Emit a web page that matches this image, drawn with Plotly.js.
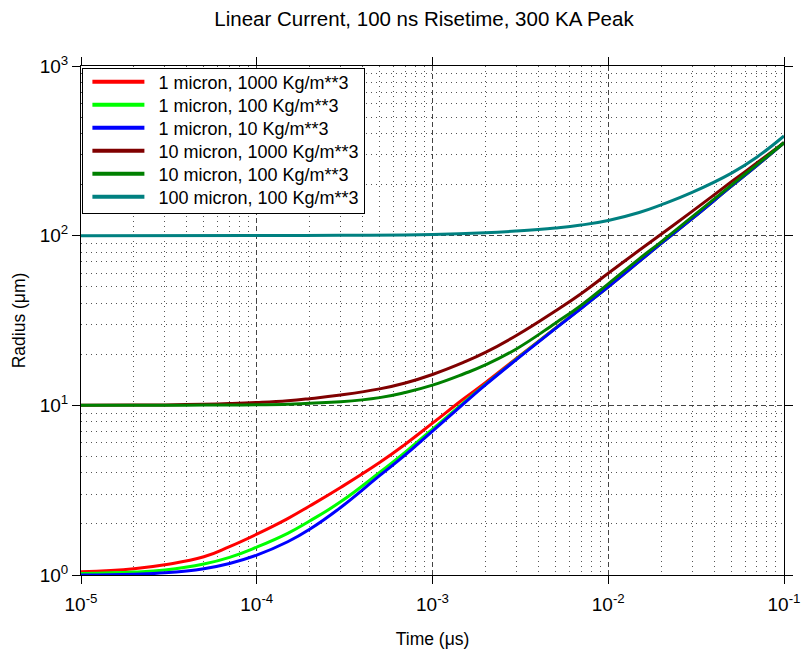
<!DOCTYPE html>
<html>
<head>
<meta charset="utf-8">
<script src="https://cdn.plot.ly/plotly-3.0.1.min.js"></script>
<style>html,body{margin:0;padding:0;background:#fff;}#chart{width:803px;height:659px;}</style>
</head>
<body>
<div id="chart"></div>
<script>
// Time samples (µs)
const timeMain = [1e-5, 2e-5, 3e-5, 5e-5, 7e-5, 1e-4, 1.5e-4, 2e-4, 3e-4, 5e-4, 7e-4, 1e-3,
                  1.5e-3, 2e-3, 3e-3, 5e-3, 7e-3, 1e-2, 1.5e-2, 2e-2, 3e-2, 5e-2, 7e-2, 1e-1];
const timeTeal = [1e-5, 1e-4, 3e-4, 1e-3, 2e-3, 3e-3, 5e-3, 7e-3, 1e-2, 1.5e-2, 2e-2, 3e-2, 5e-2, 7e-2, 1e-1];

// Radius (µm) series
const r1_1000  = [1.045, 1.09, 1.15, 1.28, 1.47, 1.74, 2.15, 2.55, 3.28, 4.6, 5.9, 7.85,
                  10.9, 13.6, 18.9, 28.5, 37.4, 50, 70.5, 90, 126, 195, 259, 353];
const r1_100   = [1.02, 1.04, 1.07, 1.16, 1.27, 1.46, 1.76, 2.08, 2.7, 4.02, 5.3, 7.25,
                  10.35, 13.3, 18.7, 28.4, 37.3, 50, 70.5, 90, 126, 195, 259, 353];
const r1_10    = [1.0, 1.01, 1.03, 1.09, 1.17, 1.31, 1.57, 1.86, 2.5, 3.85, 5.1, 7.05,
                  10.2, 13.2, 18.6, 28.3, 37.2, 50, 70.5, 90, 126, 195, 259, 353];
const r10_1000 = [10, 10.03, 10.06, 10.15, 10.25, 10.4, 10.65, 10.95, 11.5, 12.5, 13.55, 15.2,
                  17.9, 20.5, 25.8, 36, 45.5, 60, 82, 102, 139, 207, 268, 353];
const r10_100  = [10, 10.0, 10.01, 10.03, 10.05, 10.08, 10.15, 10.3, 10.5, 11.1, 11.9, 13.15,
                  15.3, 17.3, 21.5, 30.5, 38.8, 52, 73, 92, 129, 198, 262, 353];
const r100_100 = [100, 100.1, 100.5, 101.6, 104, 106.5, 111, 115.5, 123, 137, 152, 180, 233, 290, 387];

const names = ["1 micron, 1000 Kg/m**3", "1 micron, 100 Kg/m**3", "1 micron, 10 Kg/m**3",
               "10 micron, 1000 Kg/m**3", "10 micron, 100 Kg/m**3", "100 micron, 100 Kg/m**3"];
const colors = ["#ff0000", "#00ff00", "#0000ff", "#800000", "#008000", "#008080"];

const xTickVals = [1e-5, 1e-4, 1e-3, 1e-2, 1e-1];
const xTickText = ["10<sup>-5</sup>", "10<sup>-4</sup>", "10<sup>-3</sup>", "10<sup>-2</sup>", "10<sup>-1</sup>"];
const yTickVals = [1, 10, 100, 1000];
const yTickText = ["10<sup>0</sup>", "10<sup>1</sup>", "10<sup>2</sup>", "10<sup>3</sup>"];

function minorVals(decades) {
  const out = [];
  for (const d of decades) for (let k = 2; k <= 9; k++) out.push(k * d);
  return out;
}

const ys = [r1_1000, r1_100, r1_10, r10_1000, r10_100, r100_100];
const traces = ys.map((y, i) => ({
  x: i === 5 ? timeTeal : timeMain,
  y: y,
  name: names[i],
  type: "scatter",
  mode: "lines",
  line: {color: colors[i], width: 3, shape: "spline", smoothing: 1.3}
}));

const FF = "Arial, 'Liberation Sans', sans-serif";

const axisCommon = {
  type: "log",
  showline: true, linecolor: "#000", linewidth: 1, mirror: "ticks",
  ticks: "outside", ticklen: 8, tickcolor: "#000", tickwidth: 1,
  showgrid: true, gridcolor: "#444", griddash: "5px,3px", gridwidth: 1,
  zeroline: false,
  tickfont: {family: FF, size: 19, color: "#000"},
  tickmode: "array"
};

const layout = {
  width: 803, height: 659,
  margin: {l: 81, r: 19, t: 66, b: 84},
  paper_bgcolor: "#fff", plot_bgcolor: "#fff",
  font: {family: FF, color: "#000"},
  title: {text: "Linear Current, 100 ns Risetime, 300 KA Peak", font: {family: FF, size: 20.5, color: "#000"},
          x: 0.528, xanchor: "center", y: 0.972, yanchor: "middle"},
  xaxis: Object.assign({}, axisCommon, {
    range: [-5, -1],
    tickvals: xTickVals, ticktext: xTickText,
    ticklabelstandoff: 4,
    minor: {tickvals: minorVals([1e-5, 1e-4, 1e-3, 1e-2]), showgrid: true, gridcolor: "#555", griddash: "1px,4px", gridwidth: 1, ticks: ""},
    title: {text: "Time (μs)", font: {family: FF, size: 17.5, color: "#000"}, standoff: 18}
  }),
  yaxis: Object.assign({}, axisCommon, {
    range: [0, 3],
    tickvals: yTickVals, ticktext: yTickText,
    minor: {tickvals: minorVals([1, 10, 100]), showgrid: true, gridcolor: "#555", griddash: "1px,4px", gridwidth: 1, ticks: ""},
    title: {text: "Radius (μm)", font: {family: FF, size: 17.5, color: "#000"}, standoff: 9}
  }),
  showlegend: true,
  legend: {
    x: 0.002, y: 0.997, xanchor: "left", yanchor: "top",
    bgcolor: "#fff", bordercolor: "#000", borderwidth: 1,
    font: {family: FF, size: 18, color: "#000"},
    itemwidth: 65,
    tracegroupgap: 0
  }
};

Plotly.newPlot("chart", traces, layout, {displayModeBar: false, staticPlot: true}).then(function (gd) {
  // Tighten legend rows and lengthen the legend line samples to match the reference look
  const items = gd.querySelectorAll(".legend .traces");
  const parse = function (el) {
    const m = /translate\(\s*([-\d.e]+)[ ,]+([-\d.e]+)\s*\)/.exec(el.getAttribute("transform") || "");
    return m ? [parseFloat(m[1]), parseFloat(m[2])] : [0, 0];
  };
  if (items.length) {
    const first = parse(items[0]);
    items.forEach(function (el, i) {
      const p = parse(el);
      el.setAttribute("transform", "translate(" + p[0] + "," + (first[1] - 5 + i * 23) + ")");
    });
  }
  gd.querySelectorAll(".legend .legendlines path").forEach(function (p) {
    p.setAttribute("d", "M9,0h52");
    p.style.strokeWidth = "4px";
  });
  const bg = gd.querySelector(".legend rect.bg");
  if (bg) bg.setAttribute("height", 145);
});
</script>
</body>
</html>
